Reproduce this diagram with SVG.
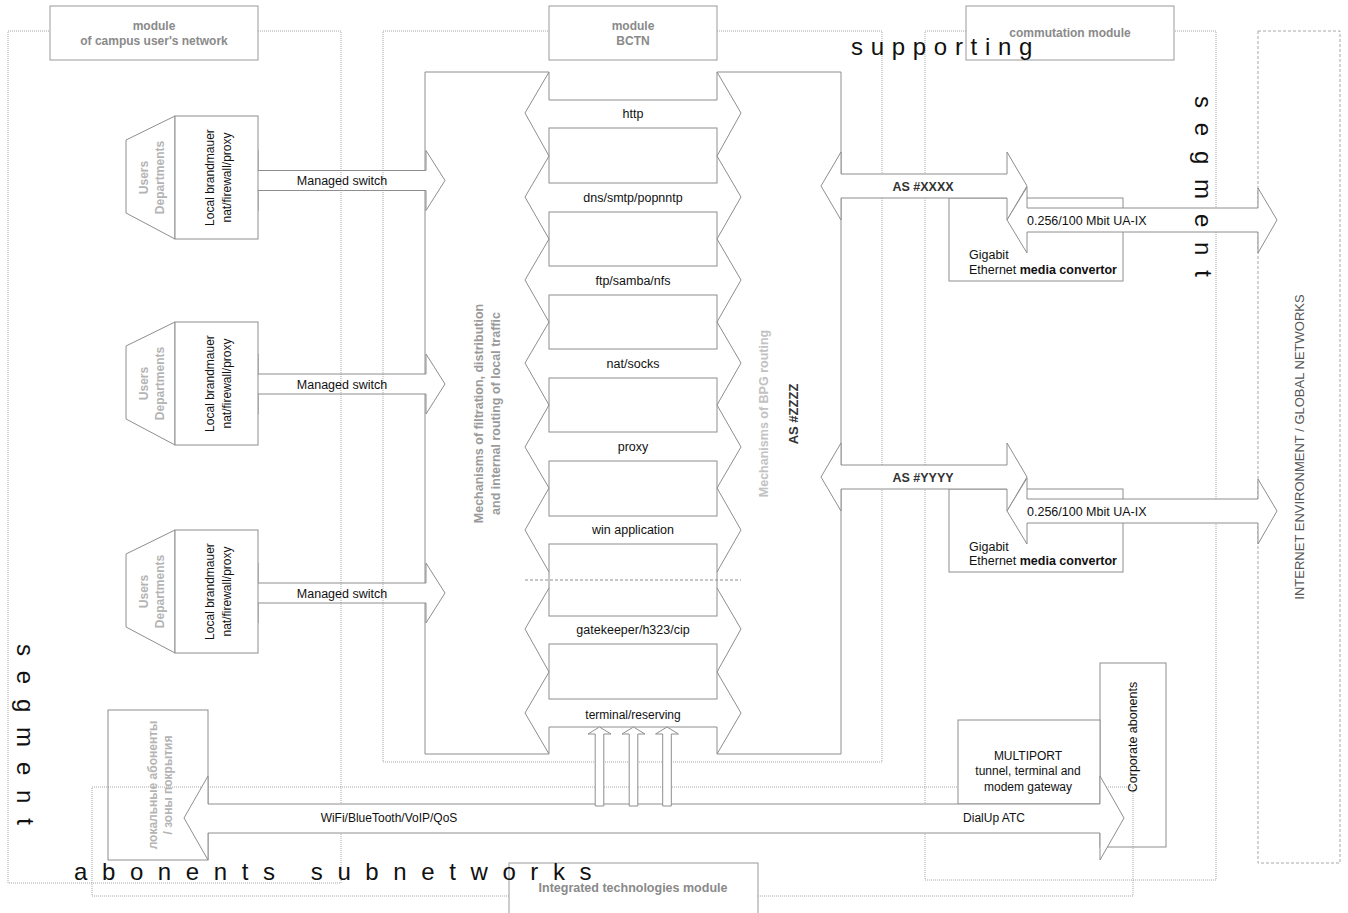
<svg xmlns="http://www.w3.org/2000/svg" width="1348" height="913" viewBox="0 0 1348 913">
<style>
text{font-family:"Liberation Sans",Arial,sans-serif;}
.dot{fill:none;stroke:#a8a8a8;stroke-width:1;stroke-dasharray:1,1;}
.dash{fill:none;stroke:#a8a8a8;stroke-width:1;stroke-dasharray:3,2;}
.ln{fill:none;stroke:#8e8e8e;stroke-width:1;}
.box{fill:#fff;stroke:#8e8e8e;stroke-width:1;}
.tbox{fill:#fff;stroke:#9a9a9a;stroke-width:1;}
.arr{fill:#fff;stroke:#8e8e8e;stroke-width:1;}
.oarr{fill:none;stroke:#8e8e8e;stroke-width:1;}
.lbl{font-size:12.5px;fill:#111;text-anchor:middle;}
.lbll{font-size:12.5px;fill:#111;}
.ttl{font-size:12px;font-weight:bold;fill:#8a8a8a;text-anchor:middle;}
.dep{font-size:12px;font-weight:bold;fill:#b4b4b4;text-anchor:middle;}
.as{font-size:12.5px;font-weight:bold;fill:#333;text-anchor:middle;}
.big{font-size:24px;fill:#111;}
.seg{font-size:24px;fill:#111;letter-spacing:14.8px;}
</style>

<g id="frames">
  <rect class="dot" x="8" y="31" width="333" height="852"/>
  <rect class="dot" x="383" y="31" width="499" height="731"/>
  <rect class="dot" x="925" y="31" width="291" height="849"/>
  <rect class="dash" x="1258" y="31" width="82" height="832"/>
  <rect class="dot" x="92" y="787" width="1041" height="109"/>
</g>

<g id="connectors">
  <path class="ln" d="M549,72 H425 V170.5 M425,190.5 V374 M425,394 V583 M425,603 V754 H549"/>
  <path class="ln" d="M717,72 H841 V754 H717"/>
  <path class="oarr" d="M240,180.5 L258,150.5 L258,170.5 L426,170.5 L426,150.5 L445,180.5 L426,210.5 L426,190.5 L258,190.5 L258,210.5 Z"/>
  <path class="oarr" d="M240,384 L258,354 L258,374 L426,374 L426,354 L445,384 L426,414 L426,394 L258,394 L258,414 Z"/>
  <path class="oarr" d="M240,593 L258,563 L258,583 L426,583 L426,563 L445,593 L426,623 L426,603 L258,603 L258,623 Z"/>
</g>

<g id="bctn-stack">
  <path class="ln" d="M549,72 V100 H717 V72"/>
  <rect class="box" x="549" y="128" width="168" height="55"/>
  <rect class="box" x="549" y="212" width="168" height="54"/>
  <rect class="box" x="549" y="295" width="168" height="54"/>
  <rect class="box" x="549" y="378" width="168" height="54"/>
  <rect class="box" x="549" y="461" width="168" height="55"/>
  <rect class="box" x="549" y="544" width="168" height="72"/>
  <rect class="box" x="549" y="644" width="168" height="55"/>
  <path class="ln" d="M549,72 L525,113 L549,156 L525,197 L549,239 L525,280 L549,322 L525,363 L549,405 L525,447 L549,488 L525,530 L549,572 M549,588 L525,629 L549,672 L525,713 L549,754"/>
  <path class="ln" d="M717,72 L741,113 L717,156 L741,197 L717,239 L741,280 L717,322 L741,363 L717,405 L741,447 L717,488 L741,530 L717,572 M717,588 L741,629 L717,672 L741,713 L717,754"/>
  <line x1="525" y1="580" x2="741" y2="580" stroke="#8e8e8e" stroke-width="1" stroke-dasharray="3,2"/>
  <text class="lbl" x="633" y="117.5">http</text>
  <text class="lbl" x="633" y="201.5">dns/smtp/popnntp</text>
  <text class="lbl" x="633" y="284.5">ftp/samba/nfs</text>
  <text class="lbl" x="633" y="367.5">nat/socks</text>
  <text class="lbl" x="633" y="451">proxy</text>
  <text class="lbl" x="633" y="534">win application</text>
  <text class="lbl" x="633" y="633.5">gatekeeper/h323/cip</text>
  <text class="lbl" x="633" y="718.5" style="font-size:12px">terminal/reserving</text>
  <path class="box" d="M549,754 V727 H717 V754"/>
</g>

<g id="title-campus">
  <rect class="tbox" x="50" y="6" width="208" height="54"/>
  <text class="ttl" x="154" y="30">module</text>
  <text class="ttl" x="154" y="45">of campus user's network</text>
</g>
<g id="title-bctn">
  <rect class="tbox" x="549" y="6" width="168" height="54"/>
  <text class="ttl" x="633" y="30">module</text>
  <text class="ttl" x="633" y="45">BCTN</text>
</g>
<g id="title-commutation">
  <rect class="tbox" x="966" y="6" width="208" height="54"/>
  <text class="ttl" x="1070" y="37">commutation module</text>
</g>

<g id="node-dep1">
  <polygon class="box" points="175,116 126,140 126,213 175,239"/>
  <rect class="box" x="175" y="116" width="83" height="123"/>
  <text class="dep" transform="rotate(-90 143 177.5)" x="143" y="182">Users</text>
  <text class="dep" transform="rotate(-90 159 177.5)" x="159" y="182">Departments</text>
  <text class="lbl" style="font-size:12px" transform="rotate(-90 209 177.5)" x="209" y="182">Local brandmauer</text>
  <text class="lbl" style="font-size:12px" transform="rotate(-90 226 177.5)" x="226" y="182">nat/firewall/proxy</text>
</g>
<g id="node-dep2">
  <polygon class="box" points="175,322 126,346 126,419 175,445"/>
  <rect class="box" x="175" y="322" width="83" height="123"/>
  <text class="dep" transform="rotate(-90 143 383.5)" x="143" y="388">Users</text>
  <text class="dep" transform="rotate(-90 159 383.5)" x="159" y="388">Departments</text>
  <text class="lbl" style="font-size:12px" transform="rotate(-90 209 383.5)" x="209" y="388">Local brandmauer</text>
  <text class="lbl" style="font-size:12px" transform="rotate(-90 226 383.5)" x="226" y="388">nat/firewall/proxy</text>
</g>
<g id="node-dep3">
  <polygon class="box" points="175,530 126,554 126,627 175,653"/>
  <rect class="box" x="175" y="530" width="83" height="123"/>
  <text class="dep" transform="rotate(-90 143 591.5)" x="143" y="596">Users</text>
  <text class="dep" transform="rotate(-90 159 591.5)" x="159" y="596">Departments</text>
  <text class="lbl" style="font-size:12px" transform="rotate(-90 209 591.5)" x="209" y="596">Local brandmauer</text>
  <text class="lbl" style="font-size:12px" transform="rotate(-90 226 591.5)" x="226" y="596">nat/firewall/proxy</text>
</g>

<g id="switch-labels">
  <text class="lbl" x="342" y="185">Managed switch</text>
  <text class="lbl" x="342" y="388.5">Managed switch</text>
  <text class="lbl" x="342" y="597.5">Managed switch</text>
</g>

<g id="mechanisms">
  <text class="ttl" style="font-size:12.5px;fill:#9a9a9a" transform="rotate(-90 478 413.5)" x="478" y="418">Mechanisms of filtration, distribution</text>
  <text class="ttl" style="font-size:12.5px;fill:#9a9a9a" transform="rotate(-90 495 413.5)" x="495" y="418">and internal routing of local traffic</text>
  <text class="ttl" style="font-size:12.5px;fill:#c2c2c2" transform="rotate(-90 763 413.5)" x="763" y="418">Mechanisms of BPG routing</text>
  <text class="as" style="font-size:13px" transform="rotate(-90 793 414)" x="793" y="418.5">AS #ZZZZ</text>
</g>

<g id="node-media1">
  <rect class="box" x="949" y="198" width="174" height="83"/>
  <path class="arr" d="M821,186 L841,152 L841,174 L1007,174 L1007,152 L1027,186 L1007,220 L1007,198 L841,198 L841,220 Z"/>
  <path class="arr" d="M1007,220 L1027,187 L1027,208 L1258,208 L1258,188 L1277,220 L1258,253 L1258,232 L1027,232 L1027,253 Z"/>
  <text class="as" x="923" y="190.5">AS #XXXX</text>
  <text class="lbll" x="1027" y="224.5">0.256/100 Mbit UA-IX</text>
  <text class="lbll" x="969" y="258.5">Gigabit</text>
  <text class="lbll" x="969" y="273.5">Ethernet <tspan font-weight="bold">media convertor</tspan></text>
</g>
<g id="node-media2">
  <rect class="box" x="949" y="489" width="174" height="83"/>
  <path class="arr" d="M821,477 L841,443 L841,465 L1007,465 L1007,443 L1027,477 L1007,511 L1007,489 L841,489 L841,511 Z"/>
  <path class="arr" d="M1007,511 L1027,478 L1027,499 L1258,499 L1258,479 L1277,511 L1258,544 L1258,523 L1027,523 L1027,544 Z"/>
  <text class="as" x="923" y="481.5">AS #YYYY</text>
  <text class="lbll" x="1027" y="515.5">0.256/100 Mbit UA-IX</text>
  <text class="lbll" x="969" y="550.5">Gigabit</text>
  <text class="lbll" x="969" y="564.5">Ethernet <tspan font-weight="bold">media convertor</tspan></text>
</g>

<g id="internet">
  <text style="font-size:13px;fill:#555;text-anchor:middle" transform="rotate(-90 1299 447)" x="1299" y="451.5">INTERNET ENVIRONMENT / GLOBAL NETWORKS</text>
</g>

<g id="node-local">
  <rect class="oarr" x="108" y="710" width="100" height="150"/>
  <text class="dep" transform="rotate(-90 152 785)" x="152" y="789.5">локальные абоненты</text>
  <text class="dep" transform="rotate(-90 167 785)" x="167" y="789.5">/ зоны покрытия</text>
</g>

<g id="node-corporate">
  <rect class="oarr" x="1100" y="663" width="66" height="184"/>
  <text class="lbl" transform="rotate(-90 1132 737)" x="1132" y="741.5">Corporate abonents</text>
</g>

<g id="node-multiport">
  <rect class="box" x="958" y="720" width="142" height="84"/>
  <text class="lbl" style="font-size:12px" x="1028" y="759.5">MULTIPORT</text>
  <text class="lbl" style="font-size:12px" x="1028" y="775">tunnel, terminal and</text>
  <text class="lbl" style="font-size:12px" x="1028" y="790.5">modem gateway</text>
</g>

<g id="bottom-bus">
  <path class="arr" d="M184,818 L208,776 L208,804 L1100,804 L1100,776 L1124,818 L1100,860 L1100,833 L208,833 L208,860 Z"/>
  <path class="arr" d="M595.2,806 V734 H588 L599.5,727 L611,734 H603.8 V806 Z"/>
  <path class="arr" d="M629.2,806 V734 H622 L633.5,727 L645,734 H637.8 V806 Z"/>
  <path class="arr" d="M662.7,806 V734 H655.5 L667,727 L678.5,734 H671.3 V806 Z"/>
  <text class="lbl" style="font-size:12px" x="389" y="822">WiFi/BlueTooth/VoIP/QoS</text>
  <text class="lbl" style="font-size:12px" x="994" y="822">DialUp ATC</text>
</g>

<g id="title-integrated">
  <rect class="tbox" x="509" y="863" width="249" height="55"/>
  <text class="ttl" style="font-size:12.5px" x="633" y="892">Integrated technologies module</text>
</g>

<g id="segment-labels">
  <text class="big" x="851" y="55" style="letter-spacing:7.7px">supporting</text>
  <text class="seg" transform="rotate(90 1195 96)" x="1195" y="96">segment</text>
  <text class="seg" transform="rotate(90 17 644)" x="17" y="644">segment</text>
  <text class="big" x="74" y="880" style="letter-spacing:14.6px">abonents subnetworks</text>
</g>
</svg>
